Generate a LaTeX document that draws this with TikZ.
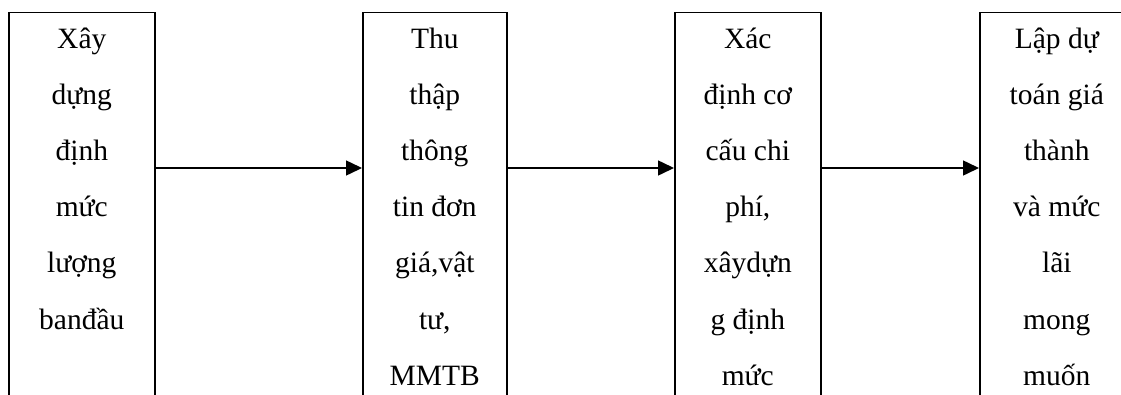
\documentclass[tikz,border=0pt]{standalone}
\usepackage{fontspec}
\setmainfont{Liberation Serif}
\usetikzlibrary{arrows.meta}
\begin{document}
\begin{tikzpicture}[x=1pt,y=1pt,
  stepbox/.style={draw, line width=1.6pt, rectangle, inner sep=0pt, anchor=north west,
                  minimum height=420pt},
  steptext/.style={anchor=base, inner sep=0pt, font=\fontsize{29.5}{56.2}\selectfont},
  flow/.style={line width=1.5pt, -{Triangle[length=16pt,width=15pt]}}]
  \fill[white] (0,0) rectangle (1121,-394);
  \clip (0,0) rectangle (1121,-394);

  % process boxes (open at the bottom edge of the page)
  \node[stepbox, minimum width=146pt] (b1) at (8,-11.5) {};
  \node[stepbox, minimum width=144pt] (b2) at (362,-11.5) {};
  \node[stepbox, minimum width=146pt] (b3) at (674,-11.5) {};
  \node[stepbox, minimum width=154pt] (b4) at (979,-11.5) {};

  % box texts, first baseline below the top edge
  \node[steptext] (t1) at ([yshift=-36.5pt]b1.north)
    {\parbox[t]{150pt}{\centering Xây\\dựng\\định\\mức\\lượng\\banđầu}};
  \node[steptext] (t2) at ([yshift=-36.5pt]b2.north)
    {\parbox[t]{150pt}{\centering Thu\\thập\\thông\\tin đơn\\giá,vật\\tư,\\MMTB}};
  \node[steptext] (t3) at ([yshift=-36.5pt]b3.north)
    {\parbox[t]{150pt}{\centering Xác\\định cơ\\cấu chi\\phí,\\xâydựn\\g định\\mức}};
  \node[steptext] (t4) at ([yshift=-36.5pt]b4.north)
    {\parbox[t]{150pt}{\centering Lập dự\\toán giá\\thành\\và mức\\lãi\\mong\\muốn}};

  % connectors
  \draw[flow] ([yshift=-156.5pt]b1.north east) -- ([yshift=-156.5pt]b2.north west);
  \draw[flow] ([yshift=-156.5pt]b2.north east) -- ([yshift=-156.5pt]b3.north west);
  \draw[flow] ([yshift=-156.5pt]b3.north east) -- ([yshift=-156.5pt]b4.north west);
\end{tikzpicture}
\end{document}
